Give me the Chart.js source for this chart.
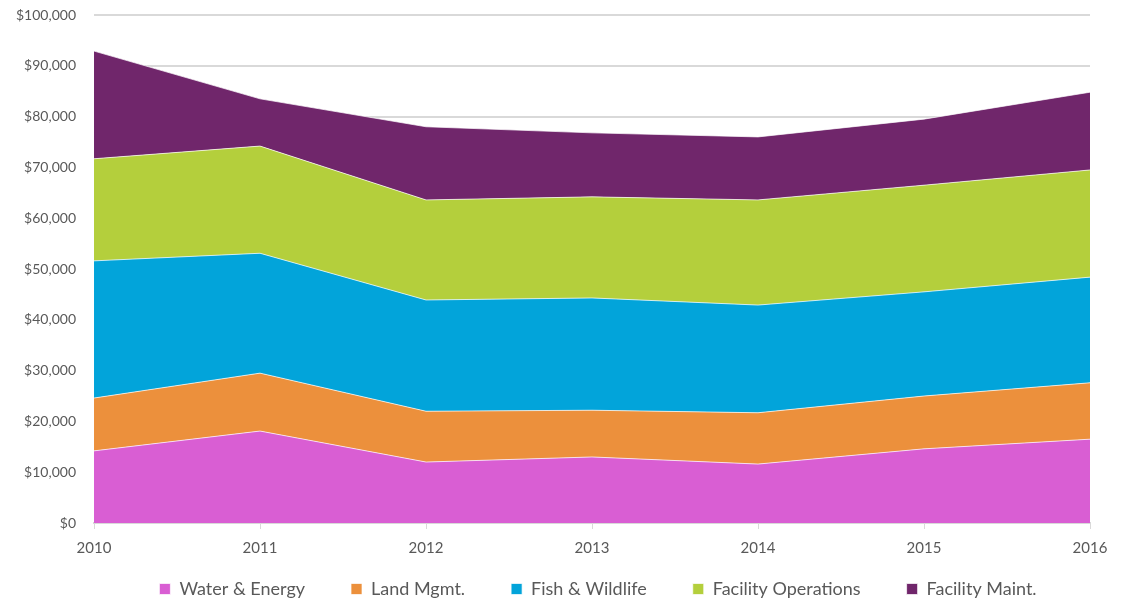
<!DOCTYPE html>
<html>
<head>
<meta charset="utf-8">
<script src="https://cdn.jsdelivr.net/npm/chart.js@4/dist/chart.umd.min.js"></script>
<style>
  html, body { margin: 0; padding: 0; background: #fff; }
  #wrap { width: 1122px; height: 600px; }
</style>
</head>
<body>
<div id="wrap"><canvas id="areaChart" width="1122" height="600"></canvas></div>
<script>
const years = ['2010', '2011', '2012', '2013', '2014', '2015', '2016'];
const waterEnergy = [14200, 18100, 12000, 13000, 11600, 14600, 16500];
const landMgmt = [10400, 11400, 10000, 9200, 10100, 10400, 11100];
const fishWildlife = [27000, 23600, 21900, 22100, 21200, 20500, 20800];
const facilityOps = [20100, 21100, 19700, 19900, 20700, 21000, 21100];
const facilityMaint = [21200, 9300, 14400, 12600, 12400, 13000, 15300];

const seriesNames = ['Water & Energy', 'Land Mgmt.', 'Fish & Wildlife', 'Facility Operations', 'Facility Maint.'];
const seriesColors = ['#D95ED3', '#EC903C', '#02A4DA', '#B4CF3C', '#70266B'];
const seriesValues = [waterEnergy, landMgmt, fishWildlife, facilityOps, facilityMaint];

const textGrey = '#595959';
const gridGrey = '#D9D9D9';

// move the legend up closer to the year labels and centre it under the plot
const legendShift = {
    id: 'legendShift',
    afterLayout(chart) {
        const l = chart.legend;
        l.top -= 33; l.bottom -= 33;
        l.left += 45; l.right += 45;
    }
};

const ctx = document.getElementById('areaChart').getContext('2d');
new Chart(ctx, {
    type: 'line',
    data: {
        labels: years,
        datasets: seriesValues.map((vals, i) => ({
            label: seriesNames[i],
            data: vals,
            backgroundColor: seriesColors[i],
            borderColor: 'rgba(255,255,255,0.7)',
            borderWidth: 1,
            pointRadius: 0,
            fill: i === 0 ? 'origin' : '-1',
            tension: 0
        }))
    },
    plugins: [legendShift],
    options: {
        responsive: false,
        animation: false,
        layout: { autoPadding: false, padding: { top: 15, right: 32, left: 16, bottom: -41 } },
        plugins: {
            legend: {
                position: 'bottom',
                labels: {
                    boxWidth: 11,
                    boxHeight: 11,
                    padding: 46,
                    color: textGrey,
                    font: { family: 'Lato', size: 18 }
                }
            },
            tooltip: { enabled: false }
        },
        scales: {
            x: {
                offset: false,
                grid: { drawOnChartArea: false, drawTicks: true, tickLength: 6, color: gridGrey },
                border: { color: gridGrey, width: 2 },
                ticks: { color: textGrey, font: { family: 'Lato', size: 15 }, padding: 10, maxRotation: 0 }
            },
            y: {
                stacked: true,
                min: 0,
                max: 100000,
                ticks: {
                    stepSize: 10000,
                    color: textGrey,
                    font: { family: 'Lato', size: 14 },
                    padding: 0,
                    callback: v => '$' + v.toLocaleString('en-US')
                },
                // invisible tick marks keep the labels clear of the plot
                grid: { color: gridGrey, lineWidth: 2, drawTicks: true, tickLength: 18, tickColor: 'rgba(0,0,0,0)' },
                border: { display: false }
            }
        }
    }
});
</script>
</body>
</html>
